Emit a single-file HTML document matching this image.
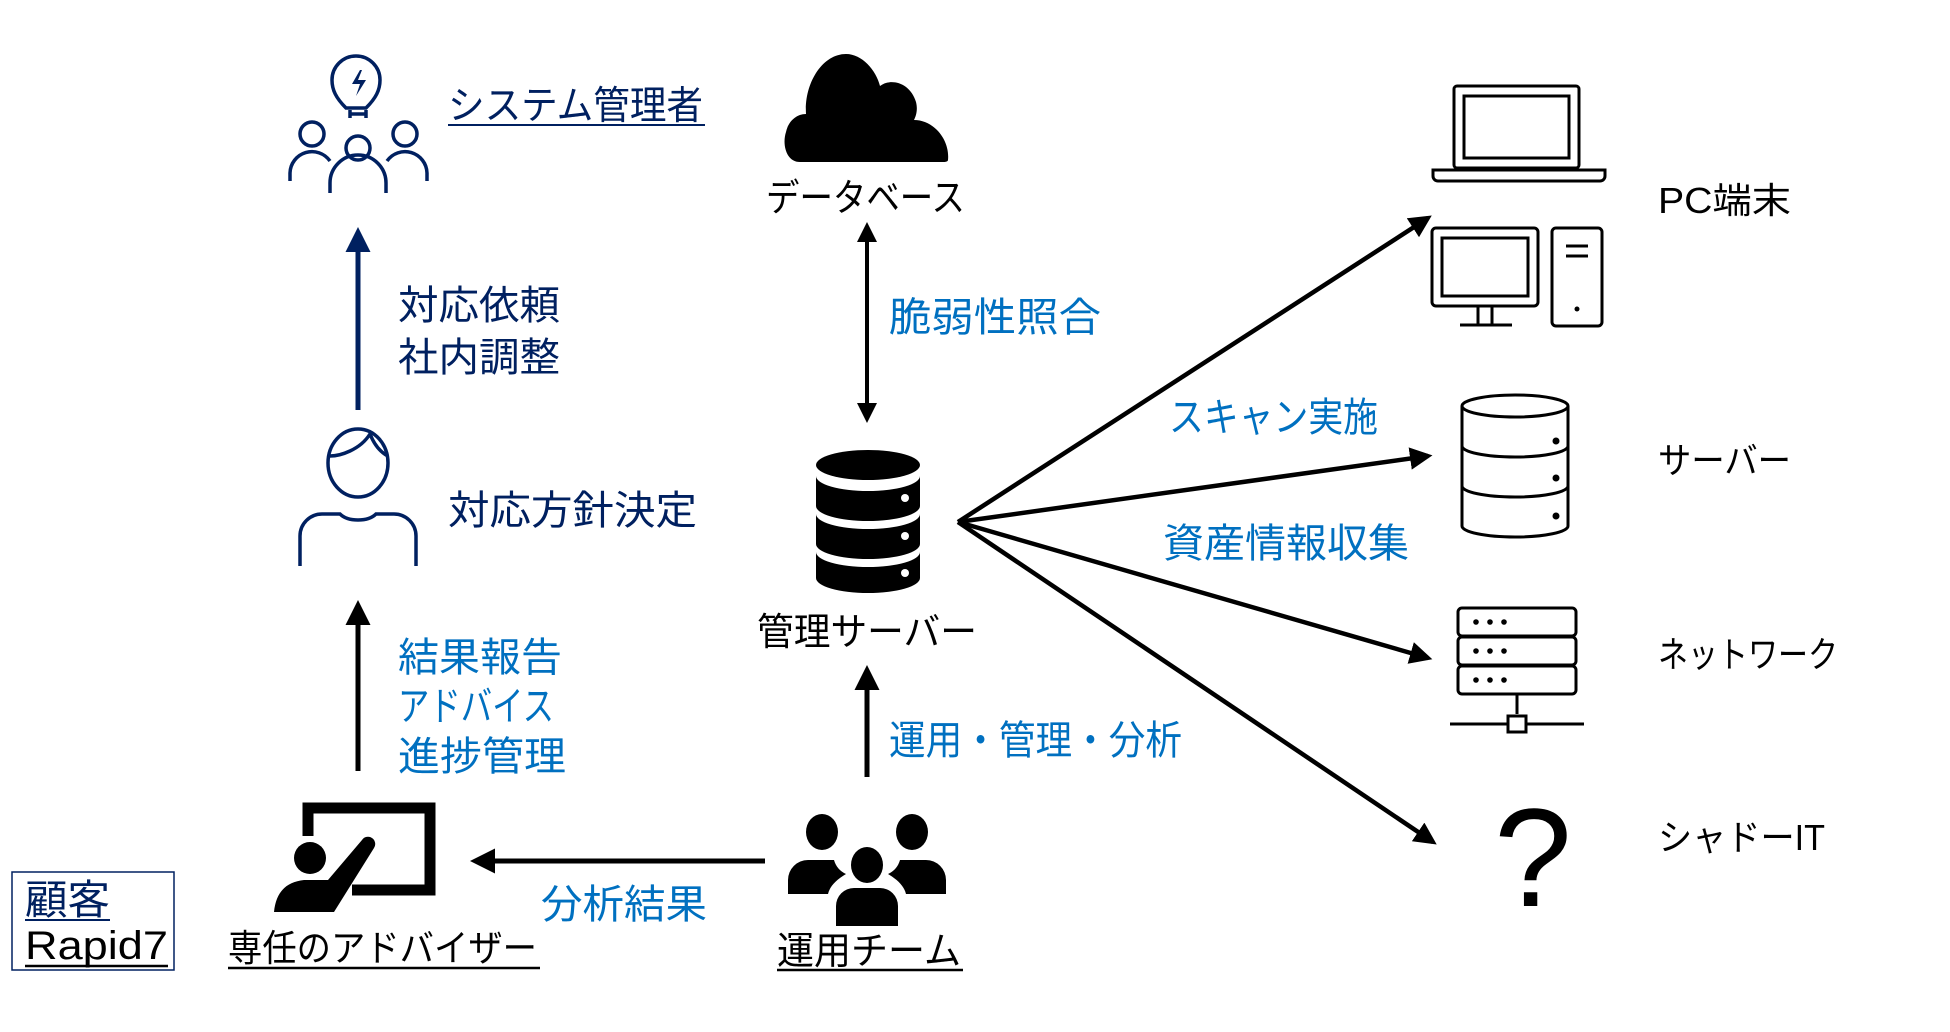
<!DOCTYPE html>
<html><head><meta charset="utf-8"><style>
html,body{margin:0;padding:0;background:#fff;}
svg{display:block;}
text{font-family:"Liberation Sans","Noto Sans CJK JP",sans-serif;}
</style></head><body>
<svg width="1950" height="1032" viewBox="0 0 1950 1032" xmlns="http://www.w3.org/2000/svg">
<defs>
<marker id="ab" markerWidth="5" markerHeight="5" refX="4" refY="2.5" orient="auto" markerUnits="strokeWidth"><path d="M0,0 L5,2.5 L0,5 z" fill="#000"/></marker>
<marker id="an" markerWidth="5" markerHeight="5" refX="4" refY="2.5" orient="auto" markerUnits="strokeWidth"><path d="M0,0 L5,2.5 L0,5 z" fill="#002060"/></marker>
<marker id="abs" markerWidth="5" markerHeight="5" refX="1" refY="2.5" orient="auto-start-reverse" markerUnits="strokeWidth"><path d="M0,0 L5,2.5 L0,5 z" fill="#000"/></marker>
</defs>

<g fill="none" stroke="#002060" stroke-width="3.5">
<path d="M350,118 v-8 M366,118 v-8"/>
<path d="M346,108 c-10,-10 -14,-18 -14,-28 a24,24 0 0 1 48,0 c0,10 -4,18 -14,28 z"/>
<path d="M350,114 h16"/>
<circle cx="312" cy="134" r="12"/><circle cx="405" cy="134" r="12"/><circle cx="358" cy="148" r="12"/>
<path d="M290,181 v-8 a22,22 0 0 1 40,-12"/>
<path d="M427,181 v-8 a22,22 0 0 0 -40,-12"/>
<path d="M330,193 v-10 a28,28 0 0 1 56,0 v10"/>
</g>
<path d="M360,70 l-8,14 h8 l-4,12 l10,-16 h-8 l4,-10z" fill="#002060"/>
<text x="448" y="119" font-size="39" fill="#002060" textLength="255" lengthAdjust="spacingAndGlyphs">システム管理者</text>
<line x1="448" y1="125" x2="705" y2="125" stroke="#002060" stroke-width="2"/>

<line x1="358" y1="410" x2="358" y2="232" stroke="#002060" stroke-width="5" marker-end="url(#an)"/>
<text x="398" y="319" font-size="40" fill="#002060" textLength="162" lengthAdjust="spacingAndGlyphs">対応依頼</text>
<text x="398" y="371" font-size="40" fill="#002060" textLength="162" lengthAdjust="spacingAndGlyphs">社内調整</text>

<g fill="none" stroke="#002060" stroke-width="3.5">
<ellipse cx="358" cy="463" rx="30" ry="34"/>
<path d="M330,456 c10,0 30,-6 40,-22 c4,10 10,18 18,22"/>
<path d="M300,566 v-30 a22,22 0 0 1 22,-22 h18 c8,8 28,8 36,0 h18 a22,22 0 0 1 22,22 v30"/>
</g>
<text x="448" y="524" font-size="40" fill="#002060" textLength="249" lengthAdjust="spacingAndGlyphs">対応方針決定</text>

<line x1="358" y1="771" x2="358" y2="605" stroke="#000" stroke-width="5" marker-end="url(#ab)"/>
<text x="398" y="671" font-size="40" fill="#0070c0" textLength="164" lengthAdjust="spacingAndGlyphs">結果報告</text>
<text x="398" y="720" font-size="40" fill="#0070c0" textLength="156" lengthAdjust="spacingAndGlyphs">アドバイス</text>
<text x="398" y="770" font-size="40" fill="#0070c0" textLength="168" lengthAdjust="spacingAndGlyphs">進捗管理</text>

<path d="M308,836 V808 h122 v82 h-78" fill="none" stroke="#000" stroke-width="11"/>
<circle cx="310" cy="858" r="16" fill="#000"/>
<path d="M274,912 c2,-20 12,-30 30,-32 h24 l34,-40 a6,6 0 0 1 12,8 l-40,64 z" fill="#000"/>
<text x="228" y="961" font-size="37" fill="#000" textLength="309" lengthAdjust="spacingAndGlyphs">専任のアドバイザー</text>
<line x1="228" y1="968" x2="540" y2="968" stroke="#000" stroke-width="2.5"/>

<line x1="765" y1="861" x2="475" y2="861" stroke="#000" stroke-width="5" marker-end="url(#ab)"/>
<text x="541" y="918" font-size="40" fill="#0070c0" textLength="166" lengthAdjust="spacingAndGlyphs">分析結果</text>

<rect x="12" y="872" width="162" height="98" fill="none" stroke="#002060" stroke-width="1.5"/>
<text x="25" y="914" font-size="41" fill="#002060" textLength="85" lengthAdjust="spacingAndGlyphs">顧客</text>
<line x1="25" y1="920" x2="110" y2="920" stroke="#002060" stroke-width="2"/>
<text x="25" y="959" font-size="40" fill="#000" textLength="143" lengthAdjust="spacingAndGlyphs">Rapid7</text>
<line x1="25" y1="966" x2="168" y2="966" stroke="#000" stroke-width="2.5"/>

<g fill="#000">
<ellipse cx="822" cy="832" rx="16" ry="18"/><ellipse cx="912" cy="832" rx="16" ry="18"/><ellipse cx="867" cy="865" rx="16" ry="18"/>
<path d="M788,894 v-14 a20,20 0 0 1 20,-20 h26 a22,22 0 0 0 12,14 c-10,6 -16,12 -18,20 z"/>
<path d="M946,894 v-14 a20,20 0 0 0 -20,-20 h-26 a22,22 0 0 1 -12,14 c10,6 16,12 18,20 z"/>
<path d="M836,926 v-20 a18,18 0 0 1 18,-18 h26 a18,18 0 0 1 18,18 v20 z"/>
</g>
<text x="777" y="964" font-size="38" fill="#000" textLength="184" lengthAdjust="spacingAndGlyphs">運用チーム</text>
<line x1="777" y1="970" x2="963" y2="970" stroke="#000" stroke-width="2.5"/>

<line x1="867" y1="777" x2="867" y2="670" stroke="#000" stroke-width="5" marker-end="url(#ab)"/>
<text x="889" y="754" font-size="40" fill="#0070c0" textLength="293" lengthAdjust="spacingAndGlyphs">運用・管理・分析</text>

<g fill="#000">
<ellipse cx="868" cy="465" rx="52" ry="15"/>
<path d="M816,476 a52,15 0 0 0 104,0 v30 a52,15 0 0 1 -104,0 z"/>
<path d="M816,514 a52,15 0 0 0 104,0 v30 a52,15 0 0 1 -104,0 z"/>
<path d="M816,552 a52,15 0 0 0 104,0 v26 a52,15 0 0 1 -104,0 z"/>
</g>
<g fill="#fff"><circle cx="905" cy="498" r="4"/><circle cx="905" cy="536" r="4"/><circle cx="905" cy="573" r="4"/></g>
<text x="757" y="645" font-size="38" fill="#000" textLength="220" lengthAdjust="spacingAndGlyphs">管理サーバー</text>

<line x1="867" y1="238" x2="867" y2="419" stroke="#000" stroke-width="4" marker-start="url(#abs)" marker-end="url(#ab)"/>
<text x="889" y="331" font-size="40" fill="#0070c0" textLength="212" lengthAdjust="spacingAndGlyphs">脆弱性照合</text>

<path d="M800,162 c-14,0 -18,-18 -14,-30 c2,-10 10,-18 20,-18 c-2,-30 16,-60 40,-60 c16,0 30,16 34,32 c10,-8 30,-4 36,16 c2,8 0,14 -2,18 c20,0 36,20 34,40 c0,2 -4,2 -4,2 z" fill="#000"/>
<text x="766" y="211" font-size="38" fill="#000" textLength="199" lengthAdjust="spacingAndGlyphs">データベース</text>

<g stroke="#000" stroke-width="4.5" fill="none">
<line x1="958" y1="522" x2="1428" y2="218" marker-end="url(#ab)"/>
<line x1="958" y1="522" x2="1428" y2="456" marker-end="url(#ab)"/>
<line x1="958" y1="522" x2="1428" y2="658" marker-end="url(#ab)"/>
<line x1="958" y1="522" x2="1433" y2="842" marker-end="url(#ab)"/>
</g>
<text x="1169" y="431" font-size="40" fill="#0070c0" textLength="209" lengthAdjust="spacingAndGlyphs">スキャン実施</text>
<text x="1163" y="557" font-size="40" fill="#0070c0" textLength="246" lengthAdjust="spacingAndGlyphs">資産情報収集</text>

<g fill="none" stroke="#000" stroke-width="3">
<rect x="1454" y="86" width="125" height="82" rx="3"/>
<rect x="1464" y="96" width="105" height="62"/>
<path d="M1433,170 h172 v6 a5,5 0 0 1 -5,5 h-162 a5,5 0 0 1 -5,-5 z"/>
<rect x="1432" y="228" width="106" height="78" rx="4"/>
<rect x="1442" y="238" width="86" height="58"/>
<path d="M1478,306 v18 M1492,306 v18 M1460,325 h52"/>
<rect x="1552" y="228" width="50" height="98" rx="4"/>
<path d="M1566,246 h22 M1566,256 h22"/>
</g>
<circle cx="1577" cy="309" r="2.5" fill="#000"/>
<text x="1658" y="213" font-size="36" fill="#000" textLength="133" lengthAdjust="spacingAndGlyphs">PC端末</text>

<g fill="none" stroke="#000" stroke-width="3">
<ellipse cx="1515" cy="406" rx="53" ry="11"/>
<path d="M1462,406 v120 a53,11 0 0 0 106,0 v-120"/>
<path d="M1462,446 a53,11 0 0 0 106,0 M1462,486 a53,11 0 0 0 106,0"/>
</g>
<g fill="#000"><circle cx="1556" cy="441" r="3.5"/><circle cx="1556" cy="478" r="3.5"/><circle cx="1556" cy="516" r="3.5"/></g>
<text x="1658" y="473" font-size="36" fill="#000" textLength="133" lengthAdjust="spacingAndGlyphs">サーバー</text>

<g fill="none" stroke="#000" stroke-width="3">
<rect x="1458" y="608" width="118" height="28" rx="4"/>
<rect x="1458" y="637" width="118" height="28" rx="4"/>
<rect x="1458" y="666" width="118" height="28" rx="4"/>
<path d="M1517,694 v20 M1450,724 h58 M1526,724 h58"/>
<rect x="1508" y="716" width="18" height="16"/>
</g>
<g fill="#000">
<circle cx="1476" cy="622" r="2.8"/><circle cx="1490" cy="622" r="2.8"/><circle cx="1504" cy="622" r="2.8"/>
<circle cx="1476" cy="651" r="2.8"/><circle cx="1490" cy="651" r="2.8"/><circle cx="1504" cy="651" r="2.8"/>
<circle cx="1476" cy="680" r="2.8"/><circle cx="1490" cy="680" r="2.8"/><circle cx="1504" cy="680" r="2.8"/>
</g>
<text x="1658" y="667" font-size="36" fill="#000" textLength="180" lengthAdjust="spacingAndGlyphs">ネットワーク</text>

<text x="1494" y="906" font-size="140" fill="#000">?</text>
<text x="1658" y="850" font-size="36" fill="#000" textLength="167" lengthAdjust="spacingAndGlyphs">シャドーIT</text>
</svg>
</body></html>
